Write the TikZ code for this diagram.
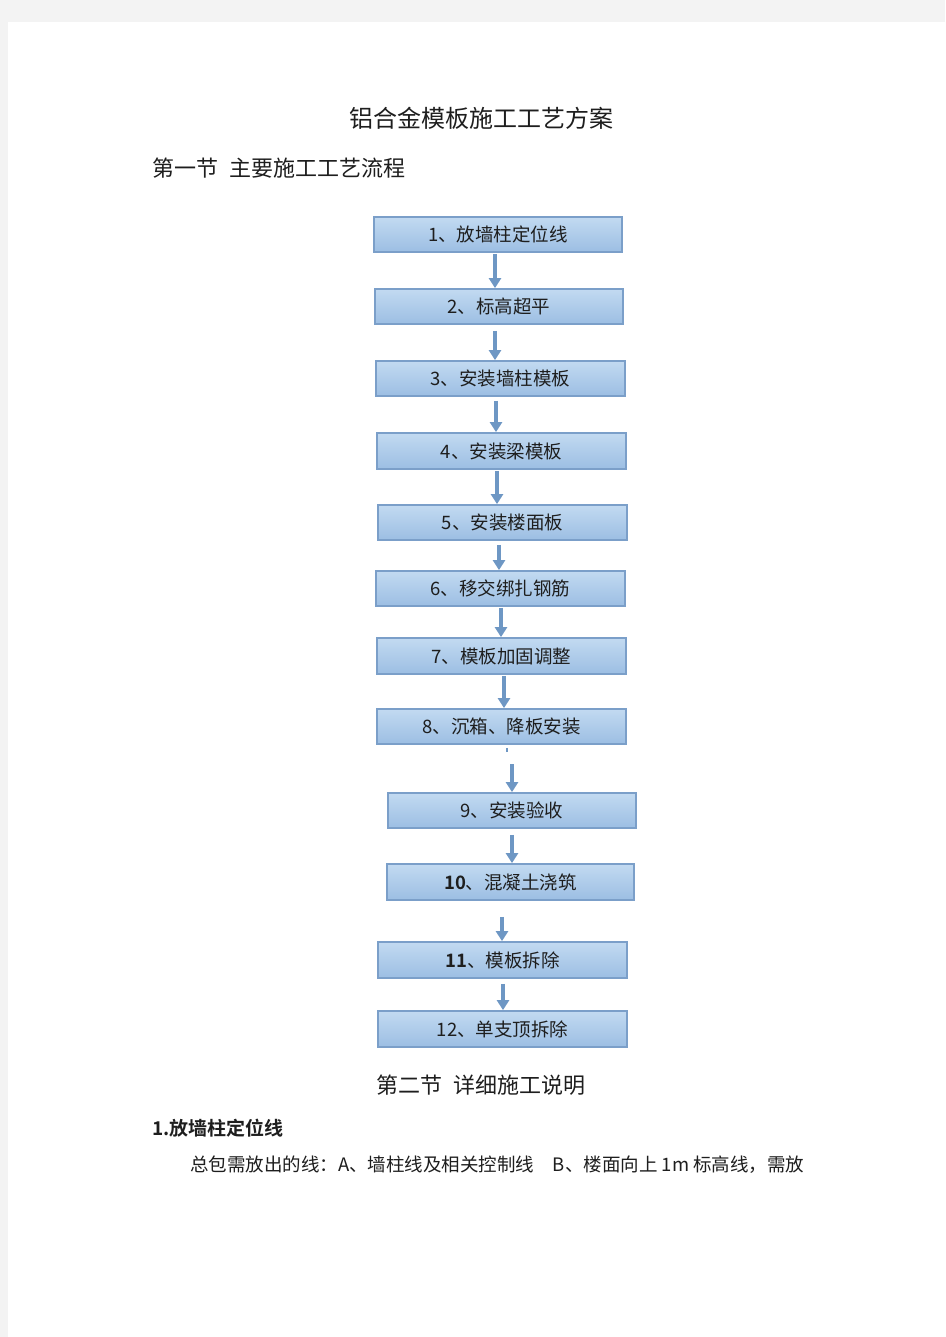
\documentclass[tikz,border=0pt]{standalone}
\usepackage{fontspec}
\setmainfont{Noto Sans CJK SC}
\newfontfamily\cjkb{Noto Sans CJK SC Bold}
\usetikzlibrary{arrows.meta}
\definecolor{pagebg}{HTML}{F3F3F3}
\definecolor{boxtop}{HTML}{C2DAF1}
\definecolor{boxbot}{HTML}{9CBEE3}
\definecolor{boxline}{HTML}{7B9FC9}
\definecolor{arrcol}{HTML}{6E97C4}
\definecolor{txt}{HTML}{1E1E1E}
\tikzset{
  stepbox/.style={draw=boxline, line width=1.8pt, top color=boxtop, bottom color=boxbot,
    minimum width=248pt, minimum height=35pt, inner sep=0pt, text=txt,
    font=\fontsize{18.5pt}{20pt}\selectfont},
  arr/.style={draw=arrcol, line width=3.2pt, -{Triangle[width=12pt,length=10pt]}},
  plain/.style={inner sep=0pt, text=txt},
}
\begin{document}
\begin{tikzpicture}[x=1pt,y=-1pt]
\fill[pagebg] (0,0) rectangle (945,1337);
\fill[white] (8,22) rectangle (945,1337);
\useasboundingbox (0,0) rectangle (945,1337);

\node[plain, font=\fontsize{24pt}{26pt}\selectfont] (title) at (481,118) {铝合金模板施工工艺方案};
\node[plain, anchor=west, font=\fontsize{22pt}{24pt}\selectfont] (sec1) at (152,168) {第一节\hspace{0.5em}主要施工工艺流程};

\node[stepbox] (b1) at (498,234.5) {1、放墙柱定位线};
\node[stepbox] (b2) at (499,306.5) {2、标高超平};
\node[stepbox, minimum width=249pt] (b3) at (500.5,378.5) {3、安装墙柱模板};
\node[stepbox, minimum width=249pt, minimum height=36pt] (b4) at (501.5,451) {4、安装梁模板};
\node[stepbox, minimum width=249pt] (b5) at (502.5,522.5) {5、安装楼面板};
\node[stepbox, minimum width=249pt] (b6) at (500.5,588.5) {6、移交绑扎钢筋};
\node[stepbox, minimum width=249pt, minimum height=36pt] (b7) at (501.5,656) {7、模板加固调整};
\node[stepbox, minimum width=249pt] (b8) at (501.5,726.5) {8、沉箱、降板安装};
\node[stepbox] (b9) at (512,810.5) {9、安装验收};
\node[stepbox, minimum width=247pt, minimum height=36pt] (b10) at (510.5,882) {{\cjkb 10}、混凝土浇筑};
\node[stepbox, minimum width=249pt, minimum height=36pt] (b11) at (502.5,960) {{\cjkb 11}、模板拆除};
\node[stepbox, minimum width=249pt, minimum height=36pt] (b12) at (502.5,1029) {12、单支顶拆除};

\draw[arr] ([xshift=-3pt,yshift=-1pt]b1.south) -- ([xshift=-4pt]b2.north);
\draw[arr] ([xshift=-4pt,yshift=-6pt]b2.south) -- ([xshift=-5.5pt]b3.north);
\draw[arr] ([xshift=-4.5pt,yshift=-4pt]b3.south) -- ([xshift=-5.5pt]b4.north);
\draw[arr] ([xshift=-4.5pt,yshift=-1pt]b4.south) -- ([xshift=-5.5pt]b5.north);
\draw[arr] ([xshift=-3.5pt,yshift=-4pt]b5.south) -- ([xshift=-1.5pt]b6.north);
\draw[arr] ([xshift=0.5pt,yshift=-1pt]b6.south) -- ([xshift=-0.5pt]b7.north);
\draw[arr] ([xshift=2.5pt,yshift=-1pt]b7.south) -- ([xshift=2.5pt]b8.north);
\draw[draw=arrcol, line width=2.6pt] ([xshift=5.5pt,yshift=-3pt]b8.south) -- ([xshift=5.5pt,yshift=-7pt]b8.south);
\coordinate (c89) at ([yshift=28pt]b9.north);
\draw[arr] (c89) -- (b9.north);
\draw[arr] ([yshift=-6pt]b9.south) -- ([xshift=1.5pt]b10.north);
\draw[arr] ([xshift=-8.5pt,yshift=-16pt]b10.south) -- ([xshift=-0.5pt]b11.north);
\draw[arr] ([xshift=0.5pt,yshift=-5pt]b11.south) -- ([xshift=0.5pt]b12.north);

\node[plain, font=\fontsize{22pt}{24pt}\selectfont] (sec2) at (481,1085) {第二节\hspace{0.5em}详细施工说明};
\node[plain, anchor=west, font=\fontsize{19pt}{21pt}\selectfont\cjkb] (sub1) at (152,1128) {1.放墙柱定位线};
\node[plain, anchor=west, font=\fontsize{18.5pt}{20pt}\selectfont] (body) at (190,1165) {总包需放出的线：A、墙柱线及相关控制线\hspace{1em}B、楼面向上 1m 标高线，需放};
\end{tikzpicture}
\end{document}
